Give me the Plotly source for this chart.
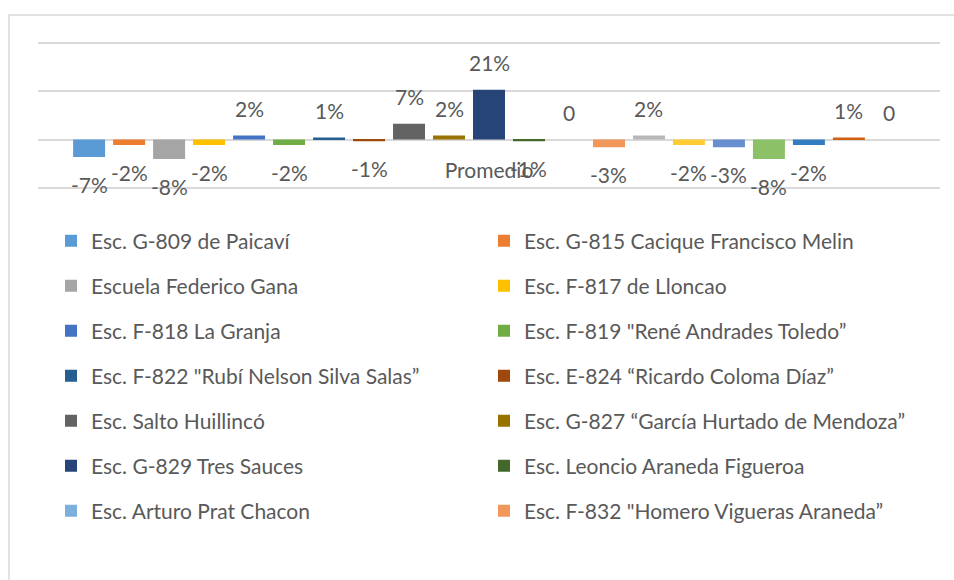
import plotly.graph_objects as go

categories = ["Promedio"]

series_names = [
    "Esc. G-809 de Paicaví",
    "Esc. G-815 Cacique Francisco Melin",
    "Escuela Federico Gana",
    "Esc. F-817 de Lloncao",
    "Esc. F-818 La Granja",
    "Esc. F-819 \"René Andrades Toledo”",
    "Esc. F-822 \"Rubí Nelson Silva Salas”",
    "Esc. E-824 “Ricardo Coloma Díaz”",
    "Esc. Salto Huillincó",
    "Esc. G-827 “García Hurtado de Mendoza”",
    "Esc. G-829 Tres Sauces",
    "Esc. Leoncio Araneda Figueroa",
    "Esc. Arturo Prat Chacon",
    "Esc. F-832 \"Homero Vigueras Araneda”",
    "Serie 15", "Serie 16", "Serie 17", "Serie 18", "Serie 19", "Serie 20", "Serie 21",
]

values = [
    -0.073, -0.023, -0.081, -0.023, 0.017, -0.023, 0.008, -0.007, 0.066, 0.017,
    0.207, -0.007, 0.0, -0.032, 0.017, -0.023, -0.032, -0.081, -0.023, 0.008, 0.0,
]

colors = [
    "#5B9BD5", "#ED7D31", "#A5A5A5", "#FFC000", "#4472C4", "#70AD47",
    "#255E91", "#9E480E", "#636363", "#997300", "#264478", "#43682B",
    "#7CAFDD", "#F1975A", "#B7B7B7", "#FFCD33", "#698ED0", "#8CC168",
    "#327DC2", "#D26012", "#8B8B8B",
]

LEGEND_COUNT = 14
FONT = "Lato"
TXT = "#595959"
GRID = "#D9D9D9"

W, H = 954, 580
L, R, T, B = 38, 14, 41, 390
PW, PH = W - L - R, H - T - B
bargap = 0.069
bargroupgap = 0.2

fig = go.Figure()
n = len(values)
for i, (name, v, c) in enumerate(zip(series_names, values, colors)):
    show = i < LEGEND_COUNT
    row = i // 2
    kw = {}
    if show and row > 0:
        kw["legend"] = f"legend{row + 1}"
    fig.add_trace(go.Bar(
        x=categories, y=[v], name=name, marker=dict(color=c, line=dict(width=0)),
        showlegend=show, **kw,
    ))

# data labels
annotations = []
for i, v in enumerate(values):
    xc = -0.5 * (1 - bargap) + (i + 0.5) * (1 - bargap) / n
    label = "0" if v == 0 else f"{round(v * 100):d}%"
    annotations.append(dict(
        x=xc, y=v, xref="x", yref="y", text=label, showarrow=False,
        yanchor="middle", xanchor="center",
        yshift=27 if v >= 0 else -27,
        font=dict(family=FONT, size=21, color=TXT),
    ))

legends = {}
row_y0 = 241
row_step = 45
for r in range(LEGEND_COUNT // 2):
    key = "legend" if r == 0 else f"legend{r + 1}"
    legends[key] = dict(
        orientation="h", xref="container", yref="container",
        x=51 / W, y=1 - (row_y0 + r * row_step) / H,
        xanchor="left", yanchor="middle",
        entrywidth=388, entrywidthmode="pixels",
        font=dict(family=FONT, size=21, color=TXT),
        bgcolor="rgba(0,0,0,0)", borderwidth=0,
        traceorder="normal",
    )

fig.update_layout(
    width=W, height=H,
    margin=dict(l=L, r=R, t=T, b=B, autoexpand=False),
    barmode="group", bargap=bargap, bargroupgap=bargroupgap,
    paper_bgcolor="white", plot_bgcolor="white",
    font=dict(family=FONT, size=21, color=TXT),
    annotations=annotations,
    yaxis=dict(range=[-0.21, 0.41], dtick=0.2, tick0=0, showgrid=True,
               gridcolor=GRID, gridwidth=2, zeroline=False,
               showticklabels=False, showline=False, fixedrange=True),
    xaxis=dict(type="category", anchor="free", position=0.21 / 0.62,
               showline=False, ticks="", showgrid=False,
               ticklabelstandoff=16,
               tickfont=dict(family=FONT, size=21, color=TXT)),
    shapes=[dict(type="rect", xref="paper", yref="paper",
                 x0=(9 - L) / PW, x1=1.2,
                 y0=-3.5, y1=(H - B - 15) / PH,
                 line=dict(color=GRID, width=1.5), layer="below")],
    **legends,
)

fig.write_html("out.html", config={"displayModeBar": False},
               post_script="document.body.style.margin='0';document.body.style.overflow='hidden';")
